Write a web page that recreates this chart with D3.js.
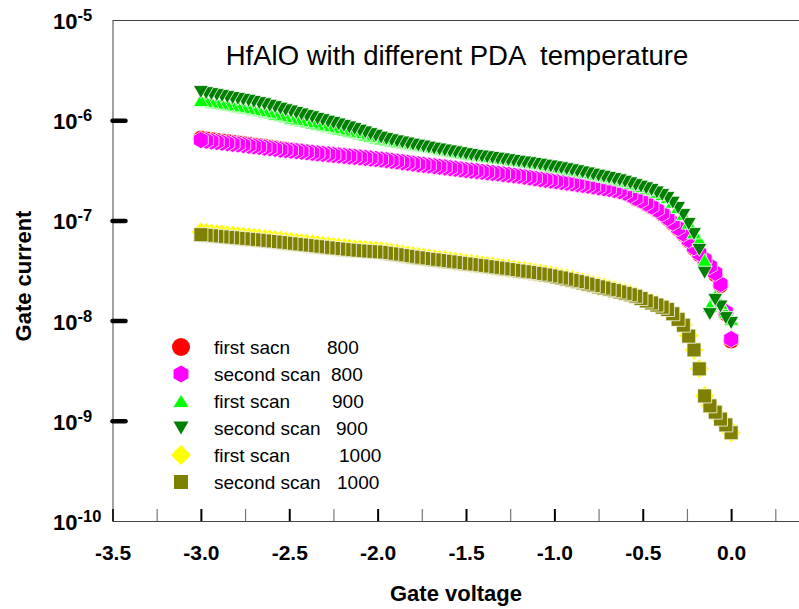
<!DOCTYPE html>
<html>
<head>
<meta charset="utf-8">
<script src="https://cdn.jsdelivr.net/npm/d3@7"></script>
<style>
  html, body { margin: 0; padding: 0; background: #ffffff; }
  svg { display: block; font-family: "Liberation Sans", Arial, Helvetica, sans-serif; }
</style>
</head>
<body>
<svg id="chart" width="799" height="609"></svg>
<script>
// Gate voltage sweep (V)
const gateVoltage = [-3.00,-2.97,-2.94,-2.91,-2.88,-2.85,-2.82,-2.79,-2.76,-2.73,-2.70,-2.67,-2.64,-2.61,-2.58,-2.55,-2.52,-2.49,-2.46,-2.43,-2.40,-2.37,-2.34,-2.31,-2.28,-2.25,-2.22,-2.19,-2.16,-2.13,-2.10,-2.07,-2.04,-2.01,-1.98,-1.95,-1.92,-1.89,-1.86,-1.83,-1.80,-1.77,-1.74,-1.71,-1.68,-1.65,-1.62,-1.59,-1.56,-1.53,-1.50,-1.47,-1.44,-1.41,-1.38,-1.35,-1.32,-1.29,-1.26,-1.23,-1.20,-1.17,-1.14,-1.11,-1.08,-1.05,-1.02,-0.99,-0.96,-0.93,-0.90,-0.87,-0.84,-0.81,-0.78,-0.75,-0.72,-0.69,-0.66,-0.63,-0.60,-0.57,-0.54,-0.51,-0.48,-0.45,-0.42,-0.39,-0.36,-0.33,-0.30,-0.27,-0.24,-0.21,-0.18,-0.15,-0.12,-0.09,-0.06,-0.03,0.00];

// Gate current (A) for each PDA temperature and scan
const firstScan800 = [6.56e-7,6.45e-7,6.35e-7,6.25e-7,6.15e-7,6.06e-7,5.97e-7,5.88e-7,5.79e-7,5.70e-7,5.61e-7,5.52e-7,5.43e-7,5.34e-7,5.25e-7,5.16e-7,5.08e-7,5.01e-7,4.94e-7,4.87e-7,
  4.78e-7,4.72e-7,4.66e-7,4.60e-7,4.55e-7,4.49e-7,4.44e-7,4.39e-7,4.34e-7,4.29e-7,4.24e-7,4.19e-7,4.14e-7,4.09e-7,4.04e-7,
  3.98e-7,3.92e-7,3.86e-7,3.80e-7,3.74e-7,3.68e-7,3.62e-7,3.57e-7,3.52e-7,3.47e-7,3.42e-7,3.37e-7,3.32e-7,3.27e-7,3.22e-7,
  3.17e-7,3.13e-7,3.09e-7,3.05e-7,3.01e-7,2.97e-7,2.93e-7,2.89e-7,2.85e-7,2.81e-7,2.77e-7,2.72e-7,2.67e-7,2.62e-7,2.57e-7,
  2.53e-7,2.49e-7,2.45e-7,2.41e-7,2.37e-7,2.33e-7,2.29e-7,2.25e-7,2.21e-7,2.17e-7,2.13e-7,2.09e-7,2.05e-7,2.00e-7,1.95e-7,
  1.88e-7,1.78e-7,1.66e-7,1.57e-7,1.47e-7,1.37e-7,1.27e-7,1.16e-7,1.05e-7,9.4e-8,
  8.3e-8,7.3e-8,6.3e-8,5.3e-8,4.6e-8,4.0e-8,3.4e-8,2.9e-8,2.25e-8,1.18e-8,6.3e-9];

const secondScan800 = [6.34e-7,6.24e-7,6.15e-7,6.06e-7,5.97e-7,5.89e-7,5.81e-7,5.73e-7,5.65e-7,5.57e-7,5.49e-7,5.41e-7,5.33e-7,5.25e-7,5.17e-7,5.09e-7,5.03e-7,4.97e-7,4.91e-7,4.85e-7,
  4.79e-7,4.73e-7,4.67e-7,4.61e-7,4.56e-7,4.50e-7,4.45e-7,4.40e-7,4.35e-7,4.30e-7,4.25e-7,4.20e-7,4.15e-7,4.10e-7,4.05e-7,
  3.99e-7,3.93e-7,3.87e-7,3.81e-7,3.75e-7,3.69e-7,3.63e-7,3.58e-7,3.53e-7,3.48e-7,3.43e-7,3.38e-7,3.33e-7,3.28e-7,3.23e-7,
  3.18e-7,3.14e-7,3.10e-7,3.06e-7,3.02e-7,2.98e-7,2.94e-7,2.90e-7,2.86e-7,2.82e-7,2.78e-7,2.73e-7,2.68e-7,2.63e-7,2.58e-7,
  2.54e-7,2.50e-7,2.46e-7,2.42e-7,2.38e-7,2.34e-7,2.30e-7,2.26e-7,2.22e-7,2.18e-7,2.14e-7,2.10e-7,2.06e-7,2.01e-7,1.96e-7,
  1.89e-7,1.79e-7,1.67e-7,1.58e-7,1.48e-7,1.38e-7,1.28e-7,1.17e-7,1.06e-7,9.5e-8,
  8.4e-8,7.4e-8,6.4e-8,5.4e-8,4.7e-8,4.1e-8,3.5e-8,3.0e-8,2.32e-8,1.22e-8,6.55e-9];

const firstScan900 = [1.59e-6,1.56e-6,1.53e-6,1.50e-6,1.47e-6,1.44e-6,1.41e-6,1.38e-6,1.35e-6,1.32e-6,1.29e-6,1.26e-6,1.23e-6,1.20e-6,1.16e-6,1.13e-6,1.096e-6,1.06e-6,1.03e-6,1.00e-6,
  9.75e-7,9.48e-7,9.22e-7,8.97e-7,8.73e-7,8.51e-7,8.28e-7,8.06e-7,7.84e-7,7.62e-7,7.40e-7,7.18e-7,6.96e-7,6.75e-7,6.58e-7,
  6.43e-7,6.28e-7,6.14e-7,6.01e-7,5.88e-7,5.76e-7,5.64e-7,5.52e-7,5.40e-7,5.29e-7,5.18e-7,5.07e-7,4.97e-7,4.87e-7,4.77e-7,
  4.67e-7,4.58e-7,4.49e-7,4.41e-7,4.35e-7,4.28e-7,4.21e-7,4.14e-7,4.07e-7,4.00e-7,3.93e-7,3.86e-7,3.79e-7,3.73e-7,3.66e-7,
  3.59e-7,3.52e-7,3.45e-7,3.38e-7,3.30e-7,3.22e-7,3.15e-7,3.07e-7,3.00e-7,2.92e-7,2.85e-7,2.77e-7,2.70e-7,2.63e-7,2.56e-7,
  2.48e-7,2.39e-7,2.30e-7,2.21e-7,2.13e-7,2.05e-7,1.94e-7,1.83e-7,1.71e-7,1.54e-7,
  1.36e-7,1.16e-7,9.5e-8,7.6e-8,6.37e-8,4.03e-8,1.40e-8,1.76e-8,1.50e-8,1.22e-8,1.04e-8];

const secondScan900 = [1.91e-6,1.86e-6,1.82e-6,1.78e-6,1.74e-6,1.70e-6,1.66e-6,1.63e-6,1.595e-6,1.56e-6,1.52e-6,1.48e-6,1.44e-6,1.39e-6,1.35e-6,1.30e-6,1.255e-6,1.22e-6,1.18e-6,1.14e-6,
  1.10e-6,1.07e-6,1.03e-6,1.00e-6,9.65e-7,9.38e-7,9.05e-7,8.75e-7,8.45e-7,8.15e-7,7.85e-7,7.55e-7,7.25e-7,6.98e-7,6.70e-7,
  6.48e-7,6.30e-7,6.14e-7,5.98e-7,5.84e-7,5.70e-7,5.57e-7,5.45e-7,5.32e-7,5.20e-7,5.09e-7,4.98e-7,4.88e-7,4.78e-7,4.68e-7,
  4.58e-7,4.49e-7,4.40e-7,4.33e-7,4.27e-7,4.20e-7,4.13e-7,4.06e-7,3.99e-7,3.92e-7,3.85e-7,3.78e-7,3.72e-7,3.66e-7,3.59e-7,
  3.52e-7,3.45e-7,3.38e-7,3.31e-7,3.24e-7,3.16e-7,3.09e-7,3.01e-7,2.94e-7,2.86e-7,2.79e-7,2.72e-7,2.65e-7,2.58e-7,2.51e-7,
  2.43e-7,2.34e-7,2.25e-7,2.17e-7,2.09e-7,2.01e-7,1.90e-7,1.79e-7,1.67e-7,1.50e-7,
  1.33e-7,1.13e-7,9.2e-8,7.3e-8,5.07e-8,3.0e-8,1.16e-8,1.61e-8,1.38e-8,1.06e-8,9.46e-9];

const firstScan1000 = [7.65e-8,7.54e-8,7.45e-8,7.35e-8,7.26e-8,7.17e-8,7.09e-8,7.00e-8,6.92e-8,6.83e-8,6.75e-8,6.66e-8,6.57e-8,6.49e-8,6.40e-8,6.31e-8,6.22e-8,6.14e-8,6.05e-8,5.96e-8,
  5.88e-8,5.79e-8,5.71e-8,5.63e-8,5.55e-8,5.47e-8,5.40e-8,5.33e-8,5.26e-8,5.20e-8,5.15e-8,5.10e-8,5.05e-8,5.01e-8,4.94e-8,
  4.86e-8,4.77e-8,4.69e-8,4.60e-8,4.52e-8,4.43e-8,4.36e-8,4.28e-8,4.21e-8,4.15e-8,4.08e-8,4.02e-8,3.96e-8,3.89e-8,3.83e-8,
  3.77e-8,3.71e-8,3.65e-8,3.60e-8,3.54e-8,3.48e-8,3.42e-8,3.37e-8,3.31e-8,3.25e-8,3.19e-8,3.14e-8,3.08e-8,3.02e-8,2.97e-8,
  2.91e-8,2.85e-8,2.78e-8,2.71e-8,2.64e-8,2.57e-8,2.50e-8,2.42e-8,2.35e-8,2.28e-8,2.21e-8,2.15e-8,2.08e-8,2.02e-8,1.96e-8,
  1.90e-8,1.84e-8,1.77e-8,1.68e-8,1.59e-8,1.52e-8,1.45e-8,1.37e-8,1.30e-8,1.18e-8,
  1.04e-8,9.1e-9,7.1e-9,5.1e-9,3.3e-9,1.78e-9,1.42e-9,1.22e-9,1.04e-9,9.1e-10,7.6e-10];

const secondScan1000 = [7.20e-8,7.10e-8,7.02e-8,6.93e-8,6.85e-8,6.77e-8,6.70e-8,6.62e-8,6.55e-8,6.47e-8,6.40e-8,6.32e-8,6.24e-8,6.16e-8,6.08e-8,6.00e-8,5.92e-8,5.84e-8,5.76e-8,5.68e-8,
  5.61e-8,5.53e-8,5.46e-8,5.39e-8,5.31e-8,5.24e-8,5.17e-8,5.11e-8,5.05e-8,5.00e-8,4.95e-8,4.91e-8,4.87e-8,4.84e-8,4.78e-8,
  4.70e-8,4.62e-8,4.54e-8,4.46e-8,4.38e-8,4.30e-8,4.23e-8,4.16e-8,4.09e-8,4.03e-8,3.97e-8,3.91e-8,3.85e-8,3.79e-8,3.73e-8,
  3.67e-8,3.62e-8,3.56e-8,3.51e-8,3.45e-8,3.40e-8,3.34e-8,3.29e-8,3.23e-8,3.18e-8,3.12e-8,3.07e-8,3.02e-8,2.96e-8,2.91e-8,
  2.85e-8,2.79e-8,2.72e-8,2.66e-8,2.59e-8,2.52e-8,2.45e-8,2.38e-8,2.31e-8,2.24e-8,2.17e-8,2.11e-8,2.05e-8,1.99e-8,1.93e-8,
  1.87e-8,1.81e-8,1.75e-8,1.66e-8,1.57e-8,1.50e-8,1.43e-8,1.36e-8,1.29e-8,1.17e-8,
  1.03e-8,9.0e-9,7.0e-9,5.1e-9,3.3e-9,1.77e-9,1.41e-9,1.22e-9,1.04e-9,9.1e-10,7.6e-10];

// Axis ticks and labels
const xMajorTicks = [-3.5, -3.0, -2.5, -2.0, -1.5, -1.0, -0.5, 0.0];
const xMajorLabels = ["-3.5", "-3.0", "-2.5", "-2.0", "-1.5", "-1.0", "-0.5", "0.0"];
const xMinorTicks = [-3.25, -2.75, -2.25, -1.75, -1.25, -0.75, -0.25, 0.25];
const yDecades = [1e-5, 1e-6, 1e-7, 1e-8, 1e-9, 1e-10];
const yExponents = ["-5", "-6", "-7", "-8", "-9", "-10"];
const yMarkedTicks = [1e-6, 1e-7, 1e-8, 1e-9];

// Legend text
const legendNames = ["first sacn", "second scan", "first scan", "second scan", "first scan", "second scan"];
const legendTemps = ["800", "800", "900", "900", "1000", "1000"];

// Marker shapes
function shapePath(kind, s) {
  switch (kind) {
    case "circle": {
      const r = s.r;
      return `M${-r},0A${r},${r} 0 1,0 ${r},0A${r},${r} 0 1,0 ${-r},0Z`;
    }
    case "hexagon": {
      const r = s.r, pts = [];
      for (const a of [-90, -30, 30, 90, 150, 210]) {
        const t = a * Math.PI / 180;
        pts.push([r * Math.cos(t), r * Math.sin(t)]);
      }
      return "M" + pts.map(p => p[0].toFixed(2) + "," + p[1].toFixed(2)).join("L") + "Z";
    }
    case "triUp":
      return `M0,${-s.h / 2}L${s.w / 2},${s.h / 2}L${-s.w / 2},${s.h / 2}Z`;
    case "triDown":
      return `M0,${s.h / 2}L${s.w / 2},${-s.h / 2}L${-s.w / 2},${-s.h / 2}Z`;
    case "diamond":
      return `M0,${-s.r}L${s.r},0L0,${s.r}L${-s.r},0Z`;
    case "square":
      return `M${-s.a / 2},${-s.a / 2}H${s.a / 2}V${s.a / 2}H${-s.a / 2}Z`;
  }
}

const series = [
  { values: firstScan800,   color: "#ff0000", kind: "circle",  size: { r: 8.2 },         legendSize: { r: 9 } },
  { values: secondScan800,  color: "#ff00ff", kind: "hexagon", size: { r: 8.6 },         legendSize: { r: 8.6 } },
  { values: firstScan900,   color: "#00ff00", kind: "triUp",   size: { w: 15, h: 13 },   legendSize: { w: 15, h: 12 } },
  { values: secondScan900,  color: "#008000", kind: "triDown", size: { w: 15, h: 13 },   legendSize: { w: 15, h: 13 } },
  { values: firstScan1000,  color: "#ffff00", kind: "diamond", size: { r: 10 },          legendSize: { r: 10 } },
  { values: secondScan1000, color: "#808000", kind: "square",  size: { a: 14 },          legendSize: { a: 14 } }
];

const svg = d3.select("#chart");

const x = d3.scaleLinear().domain([-3.5, 0.5]).range([112.5, 819.5]);
const y = d3.scaleLog().domain([1e-10, 1e-5]).range([521, 20]);

// Frame: top border, left and bottom axes
svg.append("line").attr("x1", 112.5).attr("x2", 799).attr("y1", 20.5).attr("y2", 20.5)
  .attr("stroke", "#444").attr("stroke-width", 1);

// x axis with ticks pointing into the plot
const xAxisMinor = d3.axisBottom(x).tickValues(xMinorTicks).tickSize(-12).tickFormat("");
const gxMinor = svg.append("g").attr("transform", "translate(0,521)").call(xAxisMinor);
gxMinor.select(".domain").remove();
gxMinor.selectAll(".tick line").attr("stroke", "#777").attr("stroke-width", 1.2);

const xAxis = d3.axisBottom(x).tickValues(xMajorTicks).tickSize(-12)
  .tickFormat((d, i) => xMajorLabels[i]);
const gx = svg.append("g").attr("transform", "translate(0,521)").call(xAxis);
gx.select(".domain").attr("d", "M112.5,0.5H799").attr("stroke", "#444");
gx.selectAll(".tick line").attr("stroke", "#000").attr("stroke-width", 2);
gx.selectAll(".tick text")
  .attr("y", 39).attr("dy", null)
  .attr("font-size", 21).attr("font-weight", "bold")
  .attr("font-family", "'Liberation Sans', Arial, sans-serif")
  .attr("fill", "#000");

// y axis
const yAxis = d3.axisLeft(y).tickValues(yMarkedTicks).tickSize(0).tickFormat("");
const gy = svg.append("g").attr("transform", "translate(112.5,0)").call(yAxis);
gy.select(".domain").attr("stroke", "#444");
gy.selectAll(".tick").append("line")
  .attr("x1", 0).attr("x2", 13)
  .attr("stroke", "#000").attr("stroke-width", 4.5).attr("stroke-linecap", "round");

// y tick labels as powers of ten
const yLabels = svg.append("g");
yDecades.forEach((d, i) => {
  const t = yLabels.append("text")
    .attr("x", 53).attr("y", y(d) + 9)
    .attr("font-size", 22).attr("font-weight", "bold").attr("fill", "#000");
  t.append("tspan").text("10");
  t.append("tspan").attr("dy", -8).attr("font-size", 16.5).text(yExponents[i]);
});

// Axis titles and chart title
svg.append("text")
  .attr("x", 456).attr("y", 601)
  .attr("text-anchor", "middle").attr("font-size", 22).attr("font-weight", "bold")
  .text("Gate voltage");

svg.append("text")
  .attr("transform", "translate(31,276) rotate(-90)")
  .attr("text-anchor", "middle").attr("font-size", 22).attr("font-weight", "bold")
  .text("Gate current");

svg.append("text")
  .attr("x", 457).attr("y", 65)
  .attr("text-anchor", "middle").attr("font-size", 27.5)
  .style("white-space", "pre")
  .text("HfAlO with different PDA  temperature");

// Data markers: each sweep plotted from 0 V back to -3 V
const plot = svg.append("g");
series.forEach(s => {
  const pts = gateVoltage.map((v, i) => ({ v, c: s.values[i] })).reverse();
  const path = shapePath(s.kind, s.size);
  plot.append("g").selectAll("path")
    .data(pts)
    .join("path")
    .attr("transform", d => `translate(${x(d.v)},${y(d.c)})`)
    .attr("d", path)
    .attr("fill", s.color)
    .attr("stroke", "#ffffff")
    .attr("stroke-opacity", 0.75)
    .attr("stroke-width", 1);
});

// Legend
const legend = svg.append("g");
const rowY = [347, 374, 401, 428, 455, 482];
const tempX = [327, 331, 332, 336, 339, 337];
series.forEach((s, i) => {
  legend.append("path")
    .attr("transform", `translate(181,${rowY[i]})`)
    .attr("d", shapePath(s.kind, s.legendSize))
    .attr("fill", s.color);
  legend.append("text")
    .attr("x", 214).attr("y", rowY[i] + 7)
    .attr("font-size", 19).attr("fill", "#000")
    .text(legendNames[i]);
  legend.append("text")
    .attr("x", tempX[i]).attr("y", rowY[i] + 7)
    .attr("font-size", 19).attr("fill", "#000")
    .text(legendTemps[i]);
});
</script>
</body>
</html>
